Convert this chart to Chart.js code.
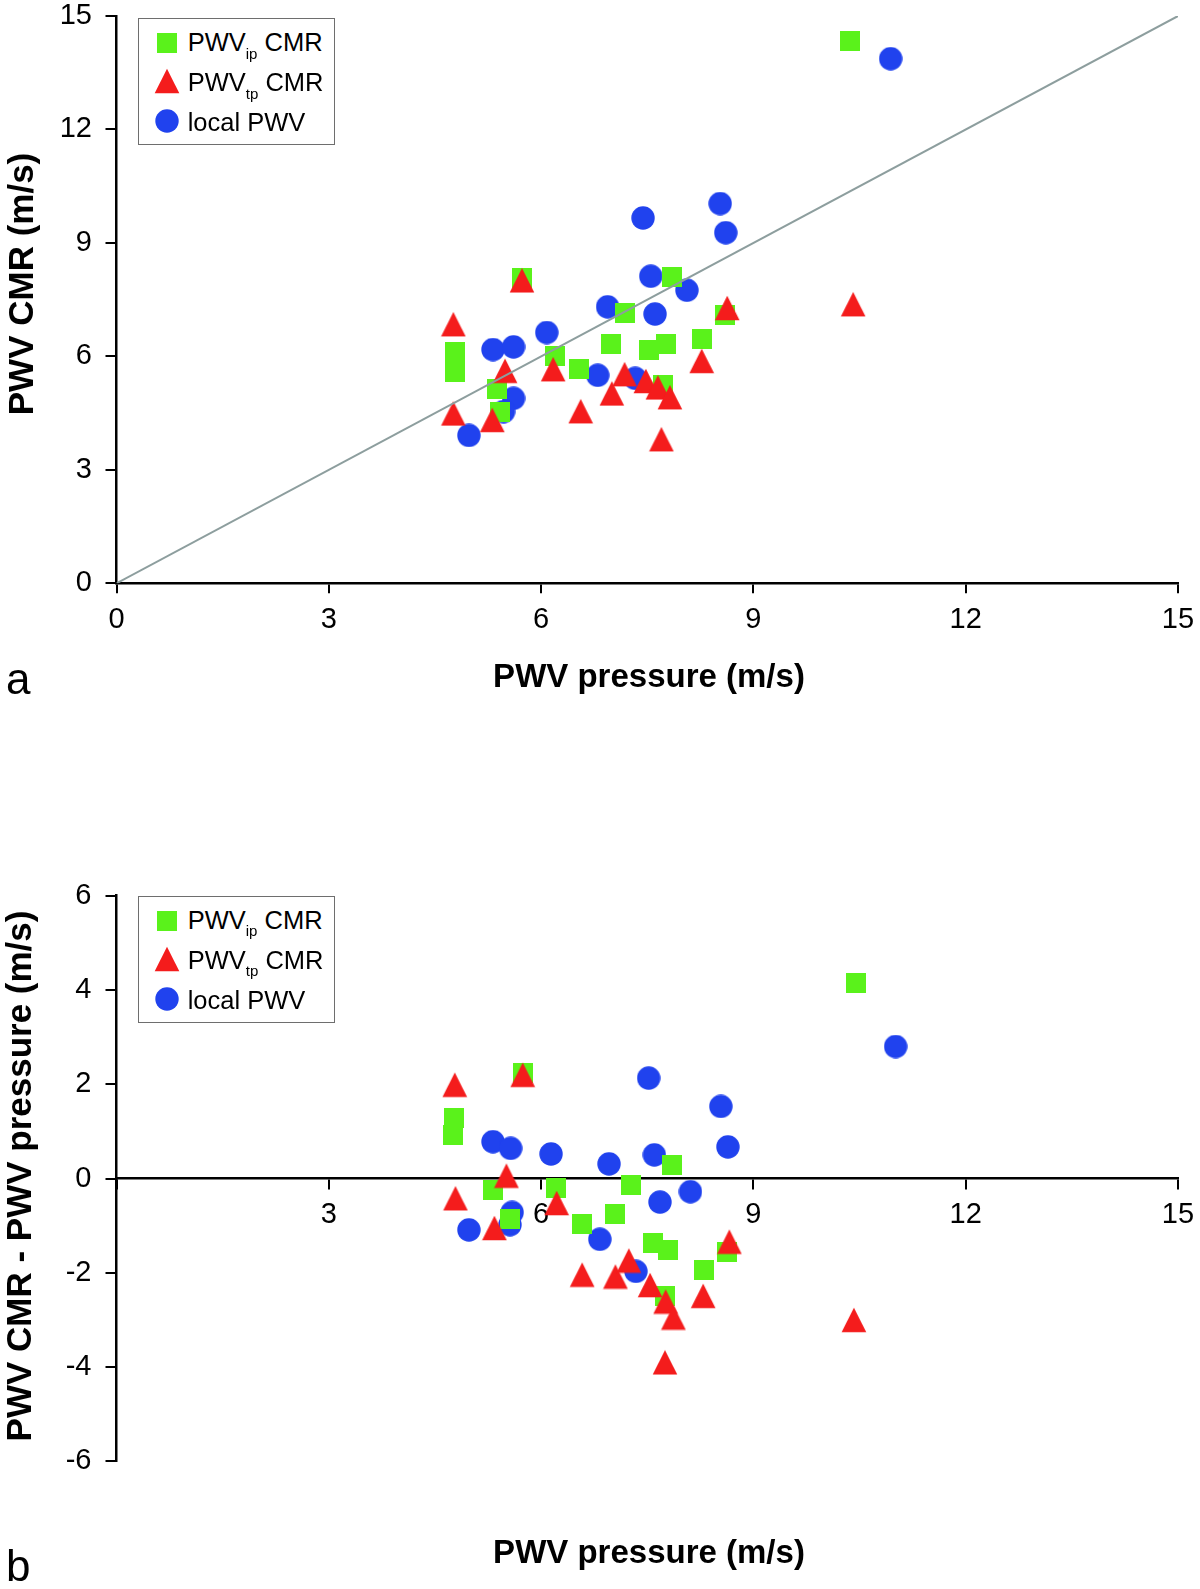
<!DOCTYPE html>
<html><head><meta charset="utf-8">
<script src="https://cdn.jsdelivr.net/npm/chart.js@4.4.1/dist/chart.umd.min.js"></script>
<style>
html,body{margin:0;padding:0;background:#fff;}
#wrap{position:relative;width:1200px;height:1589px;overflow:hidden;font-family:'Liberation Sans',Arial,Helvetica,sans-serif;color:#000;background:#fff;}
canvas.chart{position:absolute;left:0;}
.t{position:absolute;white-space:nowrap;line-height:1;}
.title{font-weight:bold;font-size:33px;transform:translate(-50%,-50%);}
.ytitle{font-size:35px;transform:translate(-50%,-50%) rotate(-90deg);}
.panel{font-size:44px;}
.legend{position:absolute;box-sizing:border-box;width:197px;height:127px;border:1.3px solid #6e6e6e;background:#fff;}
.lrow{position:absolute;left:49px;font-size:25.5px;line-height:25.5px;white-space:nowrap;}
.lsub{font-size:15px;position:relative;top:7.5px;}
.lmark{position:absolute;}
</style></head>
<body><div id="wrap">
<canvas id="c1" class="chart" width="1200" height="700" style="top:0"></canvas>
<canvas id="c2" class="chart" width="1200" height="729" style="top:860px"></canvas>
<div class="t title" style="left:649px;top:675px">PWV pressure (m/s)</div>
<div class="t title ytitle" style="left:20px;top:284px">PWV CMR (m/s)</div>
<div class="t panel" style="left:6px;top:657px">a</div>
<div class="t title" style="left:649px;top:1551px">PWV pressure (m/s)</div>
<div class="t title ytitle" style="left:18px;top:1176px">PWV CMR - PWV pressure (m/s)</div>
<div class="t panel" style="left:6px;top:1544px">b</div>
<div class="legend" id="leg1" style="left:137.7px;top:18.3px"></div>
<div class="legend" id="leg2" style="left:137.7px;top:896px"></div>
</div>
<script>
// ---------- data ----------
// Panel a: PWV CMR vs PWV pressure
const aIpX    = [5.73, 7.85, 7.18, 8.60, 4.79, 4.78, 6.20, 6.99, 7.52, 7.76, 8.27, 6.53, 5.38, 5.42, 7.72, 10.37];
const aIpY    = [8.06, 8.10, 7.16, 7.09, 6.12, 5.58, 6.01, 6.32, 6.18, 6.34, 6.45, 5.66, 5.13, 4.52, 5.24, 14.34];
const aTpX    = [5.73, 4.76, 8.63, 5.49, 6.17, 7.18, 7.48, 7.65, 7.82, 7.00, 8.27, 6.56, 4.76, 5.31, 7.70, 10.41];
const aTpY    = [8.01, 6.85, 7.28, 5.62, 5.66, 5.53, 5.35, 5.18, 4.92, 5.02, 5.88, 4.55, 4.49, 4.32, 3.81, 7.38];
const aLocX   = [7.44, 8.53, 8.61, 7.55, 8.06, 6.94, 7.61, 6.08, 5.32, 5.61, 6.80, 7.33, 5.61, 5.47, 4.98, 10.94];
const aLocY   = [9.66, 10.04, 9.27, 8.12, 7.75, 7.31, 7.12, 6.63, 6.18, 6.25, 5.50, 5.42, 4.89, 4.54, 3.91, 13.87];
const identityX = [0, 15];
const identityY = [0, 15];

// Panel b: difference (PWV CMR - PWV pressure) vs PWV pressure
const bIpX    = [5.74, 4.77, 4.76, 7.85, 5.32, 6.21, 7.27, 7.04, 6.58, 5.56, 7.58, 7.80, 8.30, 8.62, 7.75, 10.45];
const bIpY    = [2.24, 1.28, 0.93, 0.28, -0.24, -0.20, -0.13, -0.75, -0.96, -0.86, -1.36, -1.51, -1.94, -1.55, -2.49, 4.14];
const bTpX    = [4.78, 5.74, 5.51, 4.79, 6.22, 5.34, 6.58, 7.05, 7.24, 7.54, 7.76, 7.87, 8.29, 8.66, 7.75, 10.42];
const bTpY    = [1.99, 2.20, 0.06, -0.42, -0.52, -1.05, -2.04, -2.08, -1.74, -2.26, -2.61, -2.95, -2.49, -1.34, -3.90, -3.00];
const bLocX   = [7.52, 8.54, 8.64, 5.32, 5.57, 6.14, 6.96, 7.60, 8.11, 7.68, 5.59, 5.56, 4.98, 6.83, 7.34, 11.01];
const bLocY   = [2.13, 1.53, 0.67, 0.78, 0.64, 0.52, 0.31, 0.50, -0.28, -0.50, -0.72, -0.98, -1.09, -1.29, -1.97, 2.80];

// ticks
const xTickValues   = [0, 3, 6, 9, 12, 15];
const aXTickLabels  = ['0', '3', '6', '9', '12', '15'];
const aYTickValues  = [0, 3, 6, 9, 12, 15];
const aYTickLabels  = ['0', '3', '6', '9', '12', '15'];
const bXTickLabels  = ['', '3', '6', '9', '12', '15'];
const bYTickValues  = [-6, -4, -2, 0, 2, 4, 6];
const bYTickLabels  = ['-6', '-4', '-2', '0', '2', '4', '6'];

// legend
const seriesNames = [
  {main: 'PWV', sub: 'ip', rest: ' CMR'},
  {main: 'PWV', sub: 'tp', rest: ' CMR'},
  {main: 'local PWV', sub: '', rest: ''}
];

// ---------- styling ----------
const FONT = "'Liberation Sans', Arial, Helvetica, sans-serif";
Chart.defaults.font.family = FONT;
const COL_IP = '#5af21b', COL_TP = '#f41c1c', COL_LOC = '#2042ee';

function makeMarker(kind, color) {
  const c = document.createElement('canvas');
  if (kind === 'square') { c.width = 20; c.height = 20; }
  else if (kind === 'triangle') { c.width = 26; c.height = 26; }
  else { c.width = 24; c.height = 24; }
  const ctx = c.getContext('2d');
  ctx.fillStyle = color;
  ctx.beginPath();
  if (kind === 'square') ctx.rect(0, 0, 20, 20);
  else if (kind === 'triangle') { ctx.moveTo(13, 0.8); ctx.lineTo(25.3, 25.2); ctx.lineTo(0.7, 25.2); ctx.closePath(); }
  else ctx.arc(12, 12, 11.7, 0, Math.PI * 2);
  ctx.fill();
  return c;
}
const mkSq = makeMarker('square', COL_IP);
const mkTr = makeMarker('triangle', COL_TP);
const mkCi = makeMarker('circle', COL_LOC);

function pts(xs, ys) { return xs.map((x, i) => ({x: x, y: ys[i]})); }

function fixW(w) { return s => { s.width = w; s.paddingLeft = 0; s.paddingRight = 0; s.paddingTop = 0; s.paddingBottom = 0; }; }
function fixH(h) { return s => { s.height = h; s.paddingLeft = 0; s.paddingRight = 0; s.paddingTop = 0; s.paddingBottom = 0; }; }
function setTicks(vals) { return s => { s.ticks = vals.map(v => ({value: v})); }; }
function labelFrom(vals, labels) { return v => { const i = vals.indexOf(v); return i < 0 ? '' : labels[i]; }; }

const tickFont = {family: FONT, size: 29, lineHeight: 1.2};
function axisCommon(extra) {
  return Object.assign({
    type: 'linear',
    grid: {display: true, drawOnChartArea: false, drawTicks: true, color: '#000', lineWidth: 2},
    border: {display: true, color: '#000', width: 2.5},
  }, extra);
}

function scatterSets(ipX, ipY, tpX, tpY, locX, locY) {
  return [
    {label: 'PWVtp CMR', data: pts(tpX, tpY), pointStyle: mkTr, pointRadius: 12, backgroundColor: COL_TP, borderColor: COL_TP, order: 1},
    {label: 'PWVip CMR', data: pts(ipX, ipY), pointStyle: mkSq, pointRadius: 10, backgroundColor: COL_IP, borderColor: COL_IP, order: 2},
    {label: 'local PWV', data: pts(locX, locY), pointStyle: mkCi, pointRadius: 12, backgroundColor: COL_LOC, borderColor: COL_LOC, order: 3}
  ];
}

// ---------- chart a ----------
new Chart(document.getElementById('c1'), {
  type: 'scatter',
  data: {datasets: [
    {type: 'line', label: 'identity', data: pts(identityX, identityY), borderColor: '#8d9e9e', borderWidth: 2, pointRadius: 0, fill: false, tension: 0, order: 0}
  ].concat(scatterSets(aIpX, aIpY, aTpX, aTpY, aLocX, aLocY))},
  options: {
    responsive: false, animation: false, events: [],
    layout: {padding: {left: 0, top: 16, right: 22, bottom: 0}},
    plugins: {legend: {display: false}, tooltip: {enabled: false}, title: {display: false}},
    scales: {
      x: axisCommon({position: 'bottom', min: 0, max: 15,
        afterBuildTicks: setTicks(xTickValues),
        ticks: {callback: labelFrom(xTickValues, aXTickLabels), font: tickFont, color: '#000', padding: 9, maxRotation: 0, autoSkip: false},
        grid: {display: true, drawOnChartArea: false, drawTicks: true, color: '#000', lineWidth: 2, tickLength: 10},
        afterFit: fixH(700 - 583.3)}),
      y: axisCommon({position: 'left', min: 0, max: 15,
        afterBuildTicks: setTicks(aYTickValues),
        ticks: {callback: labelFrom(aYTickValues, aYTickLabels), font: tickFont, color: '#000', padding: 13.5, autoSkip: false},
        grid: {display: true, drawOnChartArea: false, drawTicks: true, color: '#000', lineWidth: 2, tickLength: 11},
        afterFit: fixW(116.5)})
    }
  }
});

// ---------- chart b ----------
new Chart(document.getElementById('c2'), {
  type: 'scatter',
  data: {datasets: scatterSets(bIpX, bIpY, bTpX, bTpY, bLocX, bLocY)},
  options: {
    responsive: false, animation: false, events: [],
    layout: {padding: {left: 0, top: 35.7, right: 22, bottom: 127.7}},
    plugins: {legend: {display: false}, tooltip: {enabled: false}, title: {display: false}},
    scales: {
      x: axisCommon({position: {y: 0}, min: 0, max: 15,
        afterBuildTicks: setTicks(xTickValues),
        ticks: {callback: labelFrom(xTickValues, bXTickLabels), font: tickFont, color: '#000', padding: 9.5, maxRotation: 0, autoSkip: false},
        grid: {display: true, drawOnChartArea: false, drawTicks: true, color: '#000', lineWidth: 2, tickLength: 10},
        afterFit: fixH(60)}),
      y: axisCommon({position: 'left', min: -6, max: 6,
        afterBuildTicks: setTicks(bYTickValues),
        ticks: {callback: labelFrom(bYTickValues, bYTickLabels), font: tickFont, color: '#000', padding: 14, autoSkip: false},
        grid: {display: true, drawOnChartArea: false, drawTicks: true, color: '#000', lineWidth: 2, tickLength: 11},
        afterFit: fixW(116.5)})
    }
  }
});

// ---------- legends ----------
function buildLegend(el) {
  const kinds = ['square', 'triangle', 'circle'];
  const cols = [COL_IP, COL_TP, COL_LOC];
  const rowTop = [10.8, 50.8, 90.8];
  const markCy = [23.7, 62.0, 101.5];
  seriesNames.forEach((s, i) => {
    const m = makeMarker(kinds[i], cols[i]);
    m.className = 'lmark';
    m.style.left = (28.8 - m.width / 2) + 'px';
    m.style.top = (markCy[i] - m.height / 2) + 'px';
    el.appendChild(m);
    const r = document.createElement('div');
    r.className = 'lrow';
    r.style.top = rowTop[i] + 'px';
    r.appendChild(document.createTextNode(s.main));
    if (s.sub) {
      const sb = document.createElement('span');
      sb.className = 'lsub';
      sb.textContent = s.sub;
      r.appendChild(sb);
    }
    if (s.rest) r.appendChild(document.createTextNode(s.rest));
    el.appendChild(r);
  });
}
buildLegend(document.getElementById('leg1'));
buildLegend(document.getElementById('leg2'));
</script>
</body></html>
